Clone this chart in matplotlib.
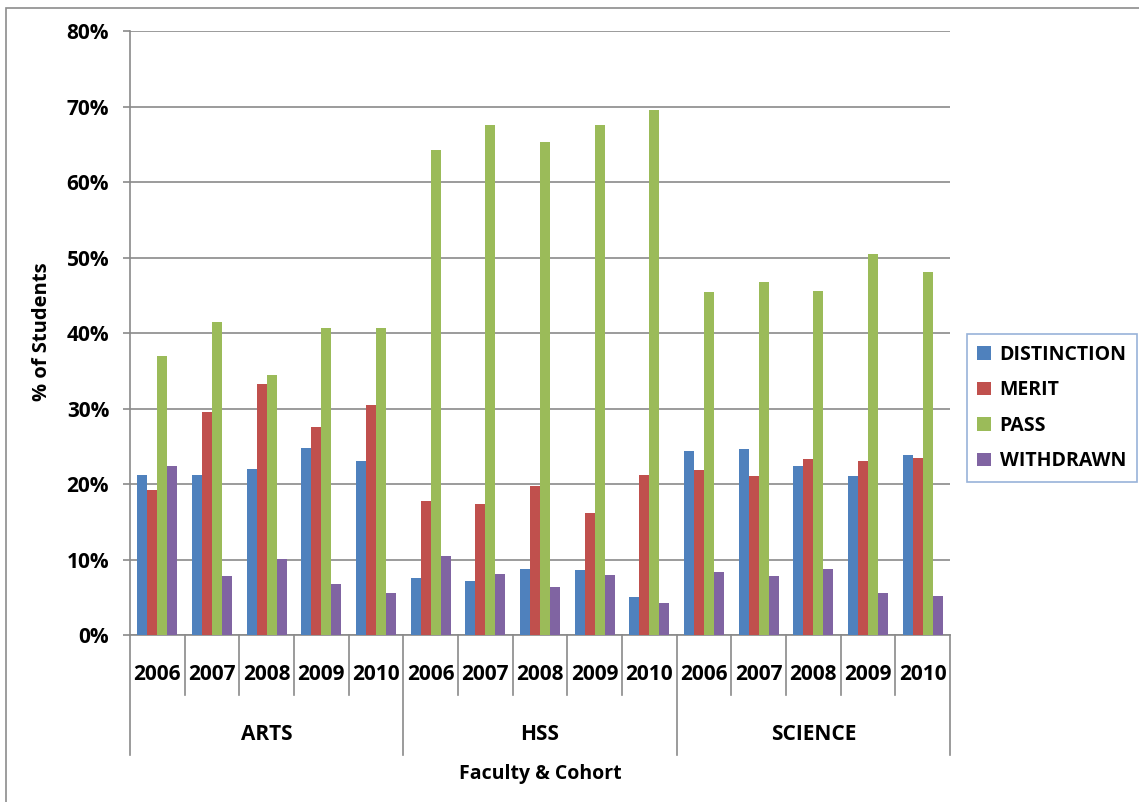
import matplotlib
matplotlib.use("Agg")
import matplotlib.pyplot as plt
from matplotlib.patches import Patch, Rectangle
import numpy as np

faculties = ["ARTS", "HSS", "SCIENCE"]
years = ["2006", "2007", "2008", "2009", "2010"]
series_names = ["DISTINCTION", "MERIT", "PASS", "WITHDRAWN"]

distinction = [21.2, 21.2, 22.0, 24.8, 23.1,
               7.6, 7.1, 8.8, 8.6, 5.0,
               24.4, 24.6, 22.4, 21.1, 23.8]
merit = [19.2, 29.5, 33.3, 27.6, 30.4,
         17.7, 17.4, 19.7, 16.1, 21.2,
         21.9, 21.1, 23.3, 23.1, 23.5]
pass_ = [36.9, 41.4, 34.4, 40.7, 40.7,
         64.3, 67.5, 65.3, 67.5, 69.6,
         45.4, 46.8, 45.6, 50.5, 48.1]
withdrawn = [22.4, 7.8, 10.1, 6.8, 5.6,
             10.4, 8.1, 6.3, 7.9, 4.2,
             8.4, 7.8, 8.8, 5.5, 5.1]

colors = ["#4F81BD", "#C0504D", "#9BBB59", "#8064A2"]
FONT = "Open Sans"
plt.rcParams["font.family"] = [FONT, "DejaVu Sans"]
plt.rcParams["font.weight"] = "bold"

W, H = 1139, 802
fig = plt.figure(figsize=(W / 100, H / 100), dpi=100)
left, right, top, bottom = 130, 950, 31, 635
ax = fig.add_axes([left / W, 1 - bottom / H, (right - left) / W, (bottom - top) / H])

# outer chart border (left & top visible)
fig.patches.append(Rectangle((6 / W, -0.1), 1.2, 1 - 8 / H + 0.1, transform=fig.transFigure,
                             fill=False, edgecolor="#8C8C8C", linewidth=1.2))

n = len(faculties) * len(years)
x = np.arange(n)
bw = 1 / 5.5
all_series = [distinction, merit, pass_, withdrawn]
for i, (vals, c, name) in enumerate(zip(all_series, colors, series_names)):
    ax.bar(x + (i - 1.5) * bw, vals, width=bw, color=c, edgecolor="none", zorder=3, label=name)

ax.set_xlim(-0.5, n - 0.5)
ax.set_ylim(0, 80)
ax.set_yticks(np.arange(0, 81, 10))
ax.set_yticklabels([f"{v}%" for v in range(0, 81, 10)], fontsize=15, fontweight="bold")
ax.yaxis.grid(True, color="#8A8A8A", linewidth=1.2, zorder=0)
ax.tick_params(axis="y", length=5, color="#8A8A8A", width=1.2, pad=10)
ax.set_xticks([])
for s in ["top", "right"]:
    ax.spines[s].set_visible(False)
ax.spines["left"].set_color("#8A8A8A")
ax.spines["bottom"].set_color("#8A8A8A")
ax.spines["left"].set_linewidth(1.2)
ax.spines["bottom"].set_linewidth(1.2)

ah = bottom - top
trans = ax.get_xaxis_transform()
# year labels and separators
labels_years = [y for _ in faculties for y in years]
for k, lab in enumerate(labels_years):
    ax.text(x[k], -(674 - bottom) / ah, lab, transform=trans, ha="center", va="center",
            fontsize=15, fontweight="bold")
for k in range(n + 1):
    xb = k - 0.5
    if k % len(years) == 0:
        yend = -(755 - bottom) / ah
    else:
        yend = -(695 - bottom) / ah
    ax.plot([xb, xb], [0, yend], transform=trans, color="#8A8A8A", linewidth=1.2, clip_on=False)
for j, f in enumerate(faculties):
    ax.text(j * len(years) + (len(years) - 1) / 2, -(734 - bottom) / ah, f, transform=trans,
            ha="center", va="center", fontsize=15, fontweight="bold")

fig.text(540 / W, 1 - 774 / H, "Faculty & Cohort", ha="center", va="center", fontsize=14, fontweight="bold")
fig.text(42 / W, 1 - 332 / H, "% of Students", ha="center", va="center", rotation=90, fontsize=14.5,
         fontweight="bold")

handles = [Patch(facecolor=c, edgecolor="none") for c in colors]
leg = fig.legend(handles, series_names, loc="center", bbox_to_anchor=(1052 / W, 1 - 408 / H),
                 frameon=True, fancybox=False, handlelength=0.7, handleheight=0.7,
                 handletextpad=0.45, labelspacing=0.8, borderpad=0.55, borderaxespad=0,
                 prop={"weight": "bold", "size": 14, "family": [FONT, "DejaVu Sans"]})
leg.get_frame().set_edgecolor("#7F9FCF")
leg.get_frame().set_linewidth(1.2)

fig.savefig("out.png", dpi=100)
